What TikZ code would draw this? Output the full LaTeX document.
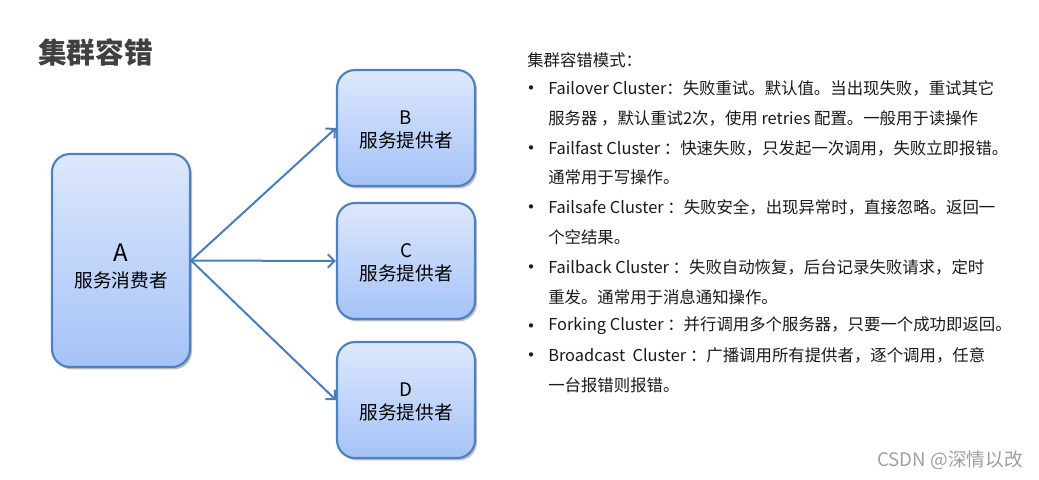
\documentclass[tikz,border=0pt]{standalone}
\usepackage{fontspec}
\setmainfont{Noto Sans CJK SC}
\usetikzlibrary{arrows.meta,shadows}
\definecolor{boxtop}{HTML}{DDE8FC}
\definecolor{boxbot}{HTML}{A5C3F8}
\definecolor{boxline}{HTML}{4F81BD}
\definecolor{arrcol}{HTML}{4A7EBB}
\definecolor{titlecol}{HTML}{404040}
\definecolor{txtcol}{HTML}{1A1A1A}
\definecolor{wmcol}{HTML}{A0A0A0}
\tikzset{
  box/.style={draw=boxline, line width=1.6pt, rounded corners=13.5pt,
    top color=boxtop, bottom color=boxbot, align=center, inner sep=0pt,
    minimum width=103.5pt, text=black,
    drop shadow={shadow xshift=1.5pt, shadow yshift=-1.8pt, opacity=0.25, fill=black}},
  boxtext/.style={align=center, inner sep=0pt, text=black},
  arr/.style={draw=arrcol, line width=1.5pt, -{Straight Barb[length=5pt,width=10pt]}},
  ln/.style={anchor=west, inner sep=0pt, text=txtcol, font=\fontsize{12.3pt}{14pt}\selectfont},
  bul/.style={anchor=center, inner sep=0pt, text=txtcol, font=\fontsize{15pt}{16pt}\selectfont},
}
\begin{document}
\begin{tikzpicture}[x=0.75pt,y=-0.75pt]
\useasboundingbox (0,0) rectangle (1039,479);
\fill[white] (0,0) rectangle (1039,479);
% title
\node[anchor=west, inner sep=0pt, text=titlecol, font=\fontsize{21.5pt}{24pt}\selectfont\bfseries] (title) at (38,52) {集群容错};
% boxes
\node[box, minimum height=159.75pt] (A) at (121,260.5) {};
\node[box, minimum height=87pt] (B) at (406,128) {};
\node[box, minimum height=87pt] (C) at (406,261) {};
\node[box, minimum height=87pt] (D) at (406,400) {};
\node[boxtext, font=\fontsize{14pt}{19.5pt}\selectfont] (At) at (121,266) {{\fontsize{18pt}{19.5pt}\selectfont A}\\服务消费者};
\node[boxtext, font=\fontsize{14pt}{17.3pt}\selectfont] (Bt) at (406,129.5) {B\\服务提供者};
\node[boxtext, font=\fontsize{14pt}{17.3pt}\selectfont] (Ct) at (406,262.5) {C\\服务提供者};
\node[boxtext, font=\fontsize{14pt}{17.3pt}\selectfont] (Dt) at (406,401.5) {D\\服务提供者};
% arrows
\draw[arr] (A.east) -- (B.west);
\draw[arr] (A.east) -- (C.west);
\draw[arr] (A.east) -- (D.west);
% text
\node[ln] (h) at (527,60) {集群容错模式：};
\node[bul] (b1) at (531,91) {•};
\node[ln] (l1) at (548,88) {Failover Cluster：失败重试。默认值。当出现失败，重试其它};
\node[ln] (l2) at (548,118) {服务器 ，默认重试2次，使用 retries 配置。一般用于读操作};
\node[bul] (b2) at (531,151) {•};
\node[ln] (l3) at (548,148) {Failfast Cluster ：快速失败，只发起一次调用，失败立即报错。};
\node[ln] (l4) at (548,177) {通常用于写操作。};
\node[bul] (b3) at (531,210) {•};
\node[ln] (l5) at (548,207) {Failsafe Cluster ：失败安全，出现异常时，直接忽略。返回一};
\node[ln] (l6) at (548,237) {个空结果。};
\node[bul] (b4) at (531,270) {•};
\node[ln] (l7) at (548,267) {Failback Cluster ：失败自动恢复，后台记录失败请求，定时};
\node[ln] (l8) at (548,297) {重发。通常用于消息通知操作。};
\node[bul] (b5) at (531,329) {•};
\node[ln] (l9) at (548,326) {Forking Cluster ：并行调用多个服务器，只要一个成功即返回。};
\node[bul] (b6) at (531,358) {•};
\node[ln] (l10) at (548,355) {Broadcast\ \ Cluster ：广播调用所有提供者，逐个调用，任意};
\node[ln] (l11) at (548,385) {一台报错则报错。};
% watermark
\node[anchor=east, inner sep=0pt, text=wmcol, font=\fontsize{14pt}{16pt}\selectfont] (wm) at (1023,460) {CSDN @深情以改};
\end{tikzpicture}
\end{document}
